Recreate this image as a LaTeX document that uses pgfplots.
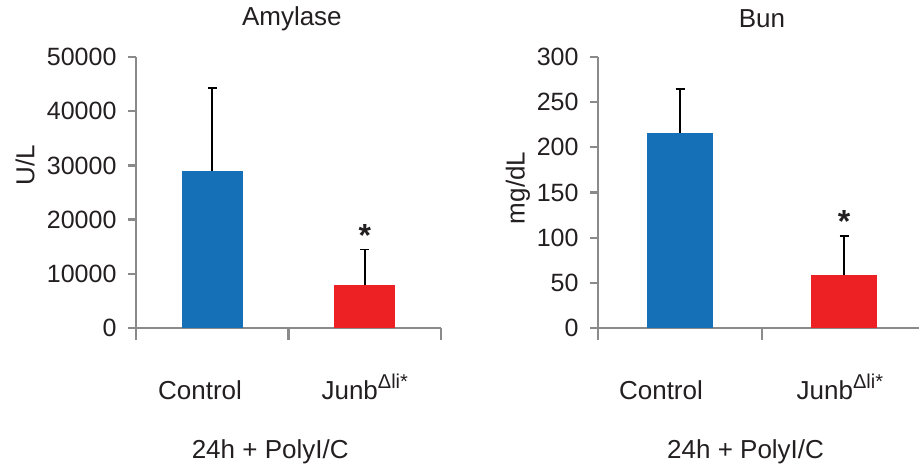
\documentclass[border=0pt]{standalone}
\usepackage{pgfplots}
\pgfplotsset{compat=1.18}
\usepackage{fontspec}
\setmainfont{Liberation Sans}
\definecolor{barblue}{RGB}{21,112,183}
\definecolor{barred}{RGB}{237,32,36}
\definecolor{axgray}{RGB}{138,138,138}
\definecolor{txt}{RGB}{35,31,32}
\newcommand{\junb}{Junb\raisebox{11pt}{\fontsize{20}{22}\selectfont Δli*}}
\pgfplotsset{
  mystyle/.style={
    scale only axis, height=271pt,
    xmin=0, xmax=2, ymin=0,
    axis x line=bottom, axis y line=left,
    axis line style={-, draw=axgray, line width=2.2pt},
    tick align=outside,
    major tick length=8pt,
    xticklabels={Control, \junb},
    xtick style={draw=none},
    xticklabel style={anchor=base, yshift=-63pt, font=\fontsize{26}{30}\selectfont},
    ytick style={draw=axgray, line width=2.2pt},
    extra x ticks={0,1,2},
    extra x tick labels={},
    extra x tick style={major tick length=12pt, xtick style={draw=axgray, line width=2.2pt}},
    tick label style={text=txt},
    yticklabel style={font=\fontsize{25}{29}\selectfont, xshift=-8pt},
    /pgf/number format/assume math mode=true,
    /pgf/number format/.cd, fixed, set thousands separator={}, /pgfplots/.cd,
    scaled y ticks=false,
    label style={font=\fontsize{26}{30}\selectfont, text=txt},
    title style={font=\fontsize{26}{30}\selectfont, text=txt},
    clip=false,
    error bars/y dir=plus, error bars/y explicit,
    error bars/error bar style={black, line width=1.6pt},
    error bars/error mark options={rotate=90, black, line width=1.6pt, mark size=4.5pt},
  }
}
\begin{document}
\begin{tikzpicture}
\useasboundingbox (0,0) rectangle (919pt,466pt);
\begin{axis}[mystyle, width=305pt, at={(136pt,138pt)}, anchor=south west,
  xtick={0.42,1.5},
  ymax=50000, ytick={0,10000,20000,30000,40000,50000},
  ylabel={U/L}, ylabel style={at={(axis description cs:-0.364,0.60)}, anchor=center},
  title={Amylase}, title style={at={(axis description cs:0.511,1.118)}, anchor=center},
  xlabel={24h + PolyI/C}, xlabel style={at={(axis description cs:0.44,-0.48)}, anchor=base}]
\addplot[ybar, bar width=0.4, fill=barblue, draw=none] coordinates {(0.5,29000) +- (0,15300)};
\addplot[ybar, bar width=0.4, fill=barred, draw=none] coordinates {(1.5,8000) +- (0,6500)};
\node[font=\fontsize{32}{34}\selectfont\bfseries, text=txt, anchor=base] at (axis cs:1.5,15000) {*};
\end{axis}
\begin{axis}[mystyle, width=328pt, at={(598pt,138pt)}, anchor=south west,
  xtick={0.384,1.475},
  ymax=300, ytick={0,50,100,150,200,250,300},
  ylabel={mg/dL}, ylabel style={at={(axis description cs:-0.244,0.517)}, anchor=center},
  title={Bun}, title style={at={(axis description cs:0.5,1.118)}, anchor=center},
  xlabel={24h + PolyI/C}, xlabel style={at={(axis description cs:0.45,-0.48)}, anchor=base}]
\addplot[ybar, bar width=0.4, fill=barblue, draw=none] coordinates {(0.5,216) +- (0,48.5)};
\addplot[ybar, bar width=0.4, fill=barred, draw=none] coordinates {(1.5,59) +- (0,43)};
\node[font=\fontsize{32}{34}\selectfont\bfseries, text=txt, anchor=base] at (axis cs:1.5,105.5) {*};
\end{axis}
\end{tikzpicture}
\end{document}
